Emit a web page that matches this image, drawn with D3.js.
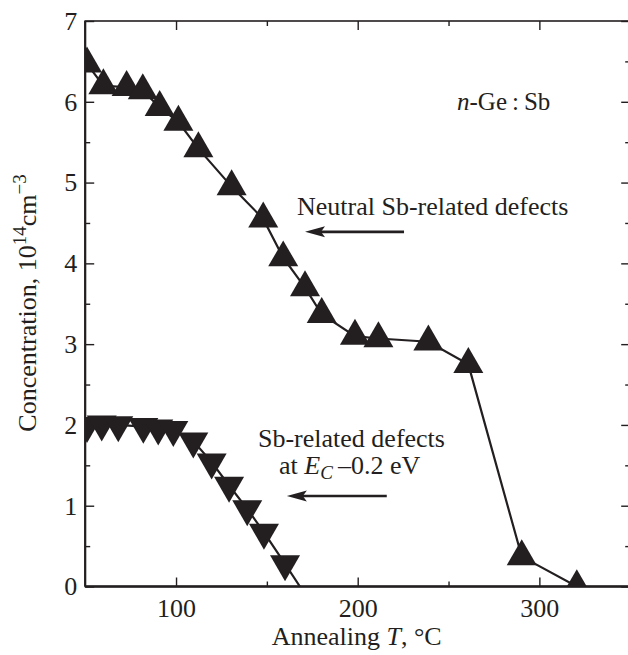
<!DOCTYPE html>
<html>
<head>
<meta charset="utf-8">
<script src="https://cdn.jsdelivr.net/npm/d3@7"></script>
<style>
  html, body { margin: 0; padding: 0; background: #fff; }
  svg { display: block; }
</style>
</head>
<body>
<svg id="chart" width="628" height="655"></svg>
<script>
// Neutral Sb-related defects (up triangles)
const neutralT = [51, 60, 72.8, 81.7, 91, 101.3, 112.3, 130.6, 148, 159, 171, 180.2, 198.5, 211.4, 238.9, 260.9, 290.3, 320.6];
const neutralN = [6.47, 6.2, 6.18, 6.14, 5.93, 5.75, 5.42, 4.95, 4.55, 4.07, 3.7, 3.37, 3.1, 3.07, 3.03, 2.75, 0.37, 0.0];

// Sb-related defects at Ec-0.2 eV (down triangles)
const levelT = [51, 59.1, 68.2, 82, 90.2, 98.5, 109.5, 119.6, 129.2, 139.2, 148.4, 160];
const levelN = [1.99, 2.01, 2.0, 1.98, 1.96, 1.94, 1.8, 1.54, 1.25, 0.96, 0.67, 0.28];
// the guide line of the second series runs on to the axis
const levelTail = [168.2, 0];

const xMajor = [100, 200, 300];
const xMinor = [150, 250];
const yMajor = [0, 1, 2, 3, 4, 5, 6, 7];
const yMinor = [0.5, 1.5, 2.5, 3.5, 4.5, 5.5, 6.5];

const FONT = "'Liberation Serif', 'Times New Roman', Tinos, 'DejaVu Serif', serif";
const FS = 26;     // main text size
const FS_SUB = 19; // super/subscripts
const svg = d3.select("#chart").attr("font-family", FONT);
const ink = "#231f20";

const x = d3.scaleLinear().domain([50, 350]).range([85.2, 630.2]);
const y = d3.scaleLinear().domain([0, 7]).range([586.5, 21]);
const [x0, x1] = x.range();
const [yb, yt] = y.range();

svg.append("defs").append("clipPath").attr("id", "plot")
  .append("rect").attr("x", x0).attr("y", yt).attr("width", x1 - x0).attr("height", yb - yt);

// frame
svg.append("rect").attr("x", x0).attr("y", yt).attr("width", x1 - x0).attr("height", yb - yt)
  .attr("fill", "none").attr("stroke", ink).attr("stroke-width", 1.6);
svg.append("line").attr("x1", x0).attr("x2", x1).attr("y1", yb).attr("y2", yb)
  .attr("stroke", ink).attr("stroke-width", 2.6);
svg.append("line").attr("x1", x0).attr("x2", x0).attr("y1", yt).attr("y2", yb)
  .attr("stroke", ink).attr("stroke-width", 2.2);

function styleAxis(g) {
  g.attr("font-family", FONT);
  g.select(".domain").remove();
  g.selectAll(".tick line").attr("stroke", ink).attr("stroke-width", 1.4);
  g.selectAll(".tick text").attr("font-size", FS).attr("fill", ink).style("font-family", FONT);
}

// bottom axis
svg.append("g").attr("transform", `translate(0,${yb})`)
  .call(d3.axisBottom(x).tickValues(xMajor).tickSizeInner(-9).tickSizeOuter(0).tickPadding(12).tickFormat(d3.format("d")))
  .call(styleAxis);
svg.append("g").attr("transform", `translate(0,${yb})`)
  .call(d3.axisBottom(x).tickValues(xMinor).tickSizeInner(-5).tickSizeOuter(0).tickFormat(""))
  .call(styleAxis);
// top axis
svg.append("g").attr("transform", `translate(0,${yt})`)
  .call(d3.axisTop(x).tickValues(xMajor).tickSizeInner(-9).tickSizeOuter(0).tickFormat(""))
  .call(styleAxis);
svg.append("g").attr("transform", `translate(0,${yt})`)
  .call(d3.axisTop(x).tickValues(xMinor).tickSizeInner(-5).tickSizeOuter(0).tickFormat(""))
  .call(styleAxis);
// left axis
svg.append("g").attr("transform", `translate(${x0},0)`)
  .call(d3.axisLeft(y).tickValues(yMajor).tickSizeInner(-9).tickSizeOuter(0).tickPadding(8).tickFormat(d3.format("d")))
  .call(styleAxis);
svg.append("g").attr("transform", `translate(${x0},0)`)
  .call(d3.axisLeft(y).tickValues(yMinor).tickSizeInner(-5).tickSizeOuter(0).tickFormat(""))
  .call(styleAxis);
// right axis
svg.append("g").attr("transform", `translate(${x1},0)`)
  .call(d3.axisRight(y).tickValues(yMajor).tickSizeInner(-9).tickSizeOuter(0).tickFormat(""))
  .call(styleAxis);
svg.append("g").attr("transform", `translate(${x1},0)`)
  .call(d3.axisRight(y).tickValues(yMinor).tickSizeInner(-5).tickSizeOuter(0).tickFormat(""))
  .call(styleAxis);

// series
const plot = svg.append("g").attr("clip-path", "url(#plot)");
const line = d3.line().x(d => x(d[0])).y(d => y(d[1]));

const neutral = neutralT.map((t, i) => [t, neutralN[i]]);
const level = levelT.map((t, i) => [t, levelN[i]]);

plot.append("path").datum(neutral).attr("d", line)
  .attr("fill", "none").attr("stroke", ink).attr("stroke-width", 2.2);
plot.append("path").datum(level.concat([levelTail])).attr("d", line)
  .attr("fill", "none").attr("stroke", ink).attr("stroke-width", 2.2);

const tri = d3.symbol().type(d3.symbolTriangle).size(390);
plot.selectAll("path.up").data(neutral).join("path").attr("class", "up")
  .attr("d", tri)
  .attr("transform", d => `translate(${x(d[0])},${y(d[1])})`)
  .attr("fill", ink);
plot.selectAll("path.down").data(level).join("path").attr("class", "down")
  .attr("d", tri)
  .attr("transform", d => `translate(${x(d[0])},${y(d[1])}) rotate(180)`)
  .attr("fill", ink);

function label(parent) {
  return parent.append("text").attr("fill", ink).style("font-family", FONT);
}

// axis titles
const xt = label(svg).attr("x", (x0 + x1) / 2 - 1).attr("y", 645)
  .attr("text-anchor", "middle").attr("font-size", FS);
xt.append("tspan").text("Annealing ");
xt.append("tspan").attr("font-style", "italic").text("T");
xt.append("tspan").text(", °C");

const yt2 = label(svg).attr("transform", "translate(36,303) rotate(-90)")
  .attr("text-anchor", "middle").attr("font-size", FS);
yt2.append("tspan").text("Concentration, 10");
yt2.append("tspan").attr("dy", -10).attr("font-size", FS_SUB).text("14");
yt2.append("tspan").attr("dy", 10).text("cm");
yt2.append("tspan").attr("dy", -10).attr("font-size", FS_SUB).text("−3");

// annotations
const tag = label(svg).attr("x", 457).attr("y", 110).attr("font-size", 25);
tag.append("tspan").attr("font-style", "italic").text("n");
tag.append("tspan").text("-Ge\u2009:\u2009Sb");

label(svg).attr("x", 297).attr("y", 215).attr("font-size", FS)
  .text("Neutral Sb-related defects");

label(svg).attr("x", 258).attr("y", 447).attr("font-size", FS)
  .text("Sb-related defects");
const lv = label(svg).attr("x", 279).attr("y", 474).attr("font-size", FS);
lv.append("tspan").text("at ");
lv.append("tspan").attr("font-style", "italic").text("E");
lv.append("tspan").attr("dy", 5).attr("font-style", "italic").attr("font-size", FS_SUB).text("C");
lv.append("tspan").attr("dy", -5).text("\u2009–0.2 eV");

function arrow(tFrom, tTo, n) {
  const ax = x(tFrom), bx = x(tTo), py = y(n);
  svg.append("line").attr("x1", ax).attr("x2", bx + 14).attr("y1", py).attr("y2", py)
    .attr("stroke", ink).attr("stroke-width", 2.6);
  svg.append("path")
    .attr("d", `M${bx},${py} L${bx + 20},${py - 5.5} L${bx + 16},${py} L${bx + 20},${py + 5.5} Z`)
    .attr("fill", ink);
}
arrow(225.5, 171, 4.39);
arrow(216, 161, 1.12);
</script>
</body>
</html>
